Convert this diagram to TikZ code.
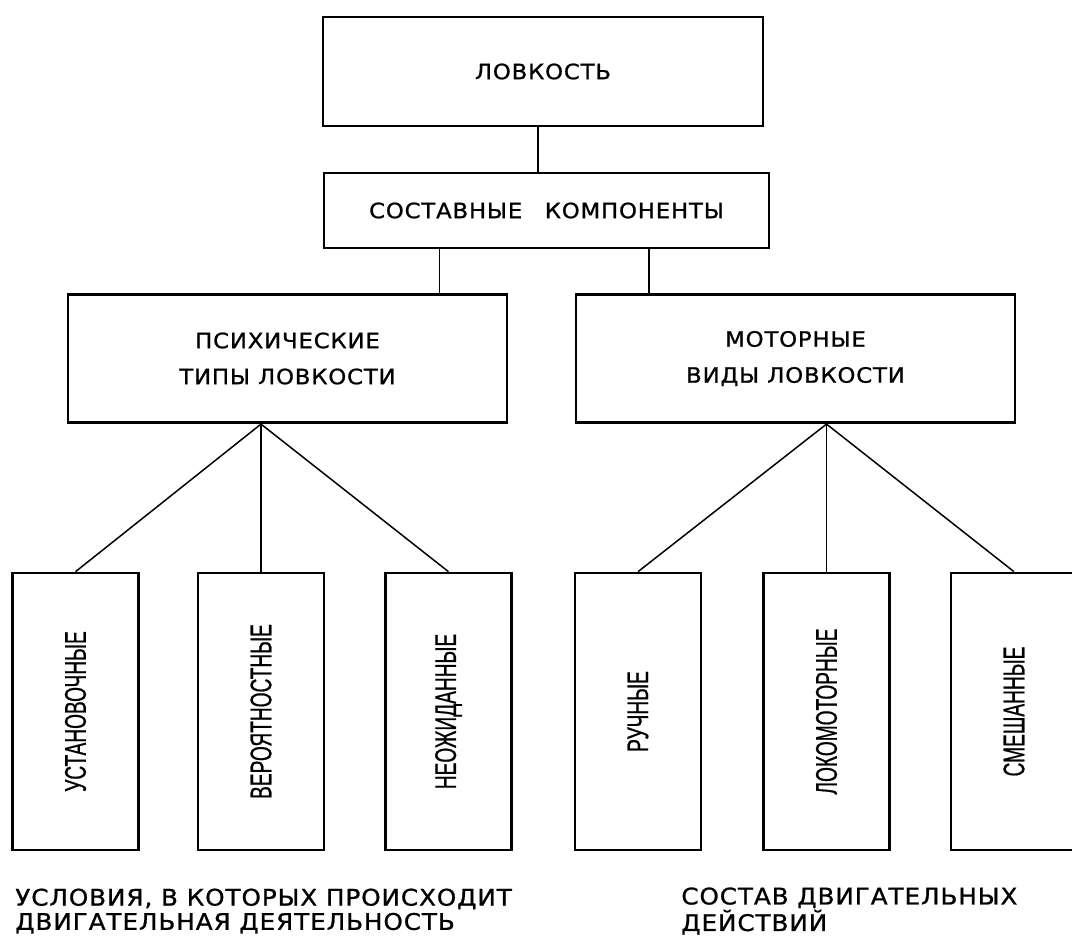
\documentclass[tikz,border=0pt]{standalone}
\usepackage{fontspec}
\usepackage{tikz}
\newfontfamily\boxfont[FakeStretch=1.08,LetterSpace=4,FakeBold=1]{DejaVu Sans}
\newfontfamily\narrowfont[FakeStretch=0.64,FakeBold=0.6]{Liberation Sans}

\begin{document}
\begin{tikzpicture}[
  mainbox/.style={draw, line width=1.5pt, rectangle, align=center, font=\boxfont\fontsize{12pt}{20.5pt}\selectfont},
  leafbox/.style={draw, line width=1.5pt, rectangle, minimum width=2.52cm, minimum height=5.54cm, inner sep=0pt, font=\narrowfont\fontsize{17pt}{17pt}\selectfont},
  caption/.style={anchor=west, align=left, inner sep=0pt, font=\boxfont\fontsize{13pt}{13.8pt}\selectfont},
  link/.style={line width=0.85pt}]%
\useasboundingbox (0,0) rectangle (21.44,-18.72);%
\clip (0,0) rectangle (21.44,-18.72);%
\node[mainbox, minimum width=8.8cm, minimum height=2.18cm] (lovkost) at (10.86, -1.43) {ЛОВКОСТЬ};%
\node[mainbox, minimum width=8.9cm, minimum height=1.5cm] (comp) at (10.93, -4.21) {СОСТАВНЫЕ\hspace{0.45cm}КОМПОНЕНТЫ};%
\node[mainbox, minimum width=8.78cm, minimum height=2.57cm] (psych) at (5.75, -7.17) {ПСИХИЧЕСКИЕ\\ТИПЫ ЛОВКОСТИ};%
\node[mainbox, minimum width=8.78cm, minimum height=2.57cm] (motor) at (15.91, -7.17) {МОТОРНЫЕ\\ВИДЫ ЛОВКОСТИ};%
\node[leafbox] (ust) at (1.51, -14.23) {\rotatebox{90}{УСТАНОВОЧНЫЕ}};%
\node[leafbox] (ver) at (5.22, -14.23) {\rotatebox{90}{ВЕРОЯТНОСТНЫЕ}};%
\node[leafbox] (neo) at (8.97, -14.23) {\rotatebox{90}{НЕОЖИДАННЫЕ}};%
\node[leafbox] (ruch) at (12.76, -14.23) {\rotatebox{90}{РУЧНЫЕ}};%
\node[leafbox] (loko) at (16.53, -14.23) {\rotatebox{90}{ЛОКОМОТОРНЫЕ}};%
\node[leafbox] (smesh) at (20.28, -14.23) {\rotatebox{90}{СМЕШАННЫЕ}};%
\coordinate (j1) at (10.76, 0);%
\coordinate (j2) at (8.79, 0);%
\coordinate (j3) at (12.98, 0);%
\draw[link] (lovkost.south -| j1) -- (comp.north -| j1);%
\draw[link] (comp.south -| j2) -- (psych.north -| j2);%
\draw[link] (comp.south -| j3) -- (motor.north -| j3);%
\draw[link] (ver.north |- psych.south) -- (ust.north);%
\draw[link] (ver.north |- psych.south) -- (ver.north);%
\draw[link] (ver.north |- psych.south) -- (neo.north);%
\draw[link] (loko.north |- motor.south) -- (ruch.north);%
\draw[link] (loko.north |- motor.south) -- (loko.north);%
\draw[link] (loko.north |- motor.south) -- (smesh.north);%
\node[caption] (cond) at (0.3, -18.22) {УСЛОВИЯ, В КОТОРЫХ ПРОИСХОДИТ\\ДВИГАТЕЛЬНАЯ ДЕЯТЕЛЬНОСТЬ};%
\node[caption] (sostav) at (13.62, -18.22) {СОСТАВ ДВИГАТЕЛЬНЫХ\\ДЕЙСТВИЙ};%
\end{tikzpicture}
\end{document}
